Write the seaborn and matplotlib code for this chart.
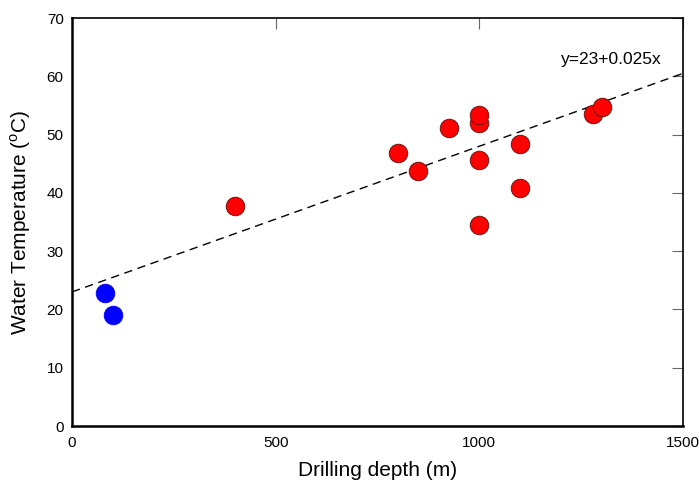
import matplotlib
matplotlib.use("Agg")
import matplotlib.pyplot as plt
import seaborn as sns
import pandas as pd
import numpy as np

# Shallow wells (blue) and deep wells (red)
shallow_depth = [80, 100]
shallow_temp = [22.8, 19.0]
deep_depth = [400, 800, 850, 925, 1000, 1000, 1000, 1000, 1100, 1100, 1280, 1300]
deep_temp = [37.7, 46.9, 43.7, 51.1, 52.0, 53.3, 45.6, 34.5, 48.3, 40.9, 53.5, 54.8]

# Regression line y = a + b x
intercept = 23
slope = 0.025
equation_label = "y=23+0.025x"

x_ticks = [0, 500, 1000, 1500]
y_ticks = [0, 10, 20, 30, 40, 50, 60, 70]

sns.set_theme(style="white")
plt.rcParams["font.family"] = ["Liberation Sans", "DejaVu Sans"]
plt.rcParams["mathtext.fontset"] = "custom"
plt.rcParams["mathtext.rm"] = "Liberation Sans"
plt.rcParams["text.color"] = "black"
plt.rcParams["axes.labelcolor"] = "black"
plt.rcParams["xtick.color"] = "black"
plt.rcParams["ytick.color"] = "black"

df = pd.DataFrame({
    "depth": shallow_depth + deep_depth,
    "temp": shallow_temp + deep_temp,
    "group": ["shallow"] * len(shallow_depth) + ["deep"] * len(deep_depth),
})

fig = plt.figure(figsize=(6.99, 4.82), dpi=100)
ax = fig.add_axes([72 / 699, 56 / 482, 611 / 699, 408 / 482])

xl = np.array([0, 1500])
ax.plot(xl, intercept + slope * xl, color="black", linestyle=(0, (6, 4)), linewidth=1.0, zorder=1)

sns.scatterplot(data=df[df.group == "deep"], x="depth", y="temp", color="#ff0000",
                edgecolor="#5a1010", linewidth=0.6, s=180, ax=ax, zorder=3, legend=False)
sns.scatterplot(data=df[df.group == "shallow"], x="depth", y="temp", color="#0000ff",
                edgecolor="#0000ff", linewidth=0.6, s=180, ax=ax, zorder=3, legend=False)

ax.set_xlim(0, 1500)
ax.set_ylim(0, 70)
ax.set_xticks(x_ticks)
ax.set_yticks(y_ticks)
ax.tick_params(axis="both", which="both", direction="in", length=8, width=0.8,
               color="#666666", top=True, right=True, labelsize=11, labelcolor="black")
ax.tick_params(axis="x", pad=7)
ax.tick_params(axis="y", pad=6)

for side in ["left", "bottom"]:
    ax.spines[side].set_linewidth(1.8)
    ax.spines[side].set_color("black")
for side in ["top", "right"]:
    ax.spines[side].set_linewidth(1.2)
    ax.spines[side].set_color("black")
    ax.spines[side].set_visible(True)

ax.set_xlabel("Drilling depth (m)", fontsize=15, labelpad=8)
ax.set_ylabel(r"Water Temperature ($^{\mathrm{o}}$C)", fontsize=15, labelpad=10)

ax.text(1200, 62.8, equation_label, fontsize=12.5, ha="left", va="center")

fig.savefig("out.png", dpi=100)
